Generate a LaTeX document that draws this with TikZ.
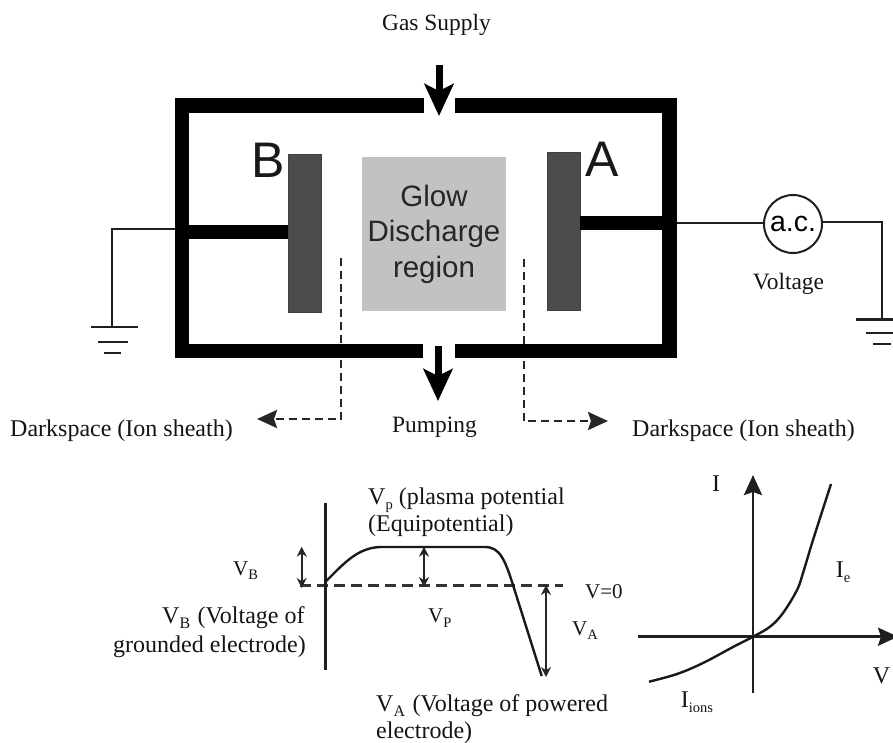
\documentclass[tikz,border=0pt]{standalone}
\usepackage{fontspec}
\setmainfont{Liberation Serif}
\setsansfont{Liberation Sans}
\usetikzlibrary{arrows.meta,positioning}
\newcommand{\lowidx}[1]{\raisebox{-0.22em}{\fontsize{14.5}{14.5}\selectfont #1}}
\newcommand{\lowidxb}[1]{\raisebox{-0.22em}{\fontsize{16}{16}\selectfont #1}\kern1.5pt\relax}
\tikzset{
  wall/.style={line width=14.4pt,draw=black,line join=miter},
  wire/.style={line width=2pt,draw=black!88},
  gnd/.style={line width=2.2pt,draw=black!88},
  bigarrow/.style={line width=7pt,draw=black,-{Stealth[length=32pt,width=29pt,inset=7pt]}},
  sheath/.style={line width=2.9pt,draw=black!85,dash pattern=on 8pt off 4.8pt,-{Stealth[length=20pt,width=18pt,inset=3pt]}},
  electrode/.style={draw=black!75,line width=0.8pt,fill=black!70,inner sep=0pt,minimum width=33pt,minimum height=157.5pt},
  glow/.style={fill=black!24,inner sep=0pt,minimum width=144.5pt,minimum height=154.5pt,
    font=\fontsize{29.5}{35.5}\selectfont\sffamily,align=center,text=black!85},
  bigletter/.style={font=\fontsize{50}{50}\selectfont\sffamily,inner sep=0pt,anchor=base west,text=black!90},
  lbl/.style={font=\fontsize{24}{27.5}\selectfont,inner sep=0pt,anchor=base west,text=black!92},
  lblnarrow/.style={font=\fontsize{23.4}{27.5}\selectfont,inner sep=0pt,anchor=base west,text=black!92},
  smalllbl/.style={font=\fontsize{21}{25}\selectfont,inner sep=0pt,anchor=base west,text=black!92},
  axisline/.style={line width=2.6pt,draw=black!88},
  curveline/.style={line width=2.4pt,draw=black!90,line join=round},
  zeroline/.style={line width=2.6pt,draw=black!80,dash pattern=on 11pt off 6pt},
  dim/.style={line width=1.8pt,draw=black!85,{Stealth[length=10pt,width=10pt]}-{Stealth[length=10pt,width=10pt]}},
  ivaxis/.style={line width=2.8pt,draw=black!88,-{Stealth[length=20pt,width=18pt,inset=3pt]}},
}
\begin{document}
\begin{tikzpicture}[x=1pt,y=-1pt]
\useasboundingbox (0,0) rectangle (893,743);

% sheath connectors, under the chamber
\coordinate (sl0) at (341,258);
\coordinate (slc) at (341,419);
\coordinate (sl1) at (257,419);
\coordinate (sr0) at (524,259);
\coordinate (src) at (524,421);
\coordinate (sr1) at (608,421);
\draw[sheath] (sl0) -- (slc) -- (sl1);
\draw[sheath] (sr0) -- (src) -- (sr1);

% chamber
\coordinate (tl) at (181.7,105.6);
\coordinate (bl) at (181.7,351);
\coordinate (tr) at (669.5,105.6);
\coordinate (br) at (669.5,351);
\coordinate (gapTL) at (424,105.6);
\coordinate (gapTR) at (455,105.6);
\coordinate (gapBL) at (423,351);
\coordinate (gapBR) at (455,351);
\draw[wall] (gapTL) -- (tl) -- (bl) -- (gapBL);
\draw[wall] (gapTR) -- (tr) -- (br) -- (gapBR);

% electrodes and discharge
\node[electrode] (eb) at (305,233.5) {};
\node[electrode] (ea) at (563.5,231.5) {};
\node[glow] (gd) at (434,234) {Glow\\Discharge\\region};
\coordinate (wb) at (181.7,232);
\coordinate (wa) at (669.5,223);
\draw[wall] (wb) -- (wb -| eb.west);
\draw[wall] (wa) -- (wa -| ea.east);
\node[bigletter] (lb) at (251,178) {B};
\node[bigletter] (la) at (585,177) {A};

% gas arrows
\coordinate (g0) at (439,65);
\coordinate (g1) at (439,116);
\coordinate (p0) at (438,346);
\coordinate (p1) at (438,401);
\draw[bigarrow] (g0) -- (g1);
\draw[bigarrow] (p0) -- (p1);

% left ground
\coordinate (lw0) at (174.5,229);
\coordinate (lwc) at (112,229);
\coordinate (lg) at (112,326.7);
\draw[wire] (lw0) -- (lwc) -- (lg);
\draw[gnd] (91,326.7) -- (138,326.7);
\draw[gnd] (98,341.7) -- (128,341.7);
\draw[gnd] (104,353) -- (121,353);

% source and right ground
\node[circle,draw=black!88,line width=2pt,fill=white,minimum size=58pt,inner sep=0pt,
  font=\fontsize{28.5}{28.5}\selectfont\sffamily] (ac) at (793,224) {a.c.};
\coordinate (rw0) at (676.7,223);
\coordinate (rwc) at (882,222);
\coordinate (rg) at (882,319.5);
\draw[wire] (rw0) -- (ac.west |- rw0);
\draw[wire] (ac.east |- rwc) -- (rwc) -- (rg);
\draw[gnd] (856,319.5) -- (893,319.5);
\draw[gnd] (866,332.7) -- (893,332.7);
\draw[gnd] (873,344) -- (891,344);

% upper labels
\node[lblnarrow] (tgas) at (382,31) {Gas Supply};
\node[lblnarrow] (tvolt) at (752.7,289) {Voltage};
\node[lbl] (tdl) at (10,436.7) {Darkspace (Ion sheath)};
\node[lbl] (tdr) at (632,436.7) {Darkspace (Ion sheath)};
\node[lblnarrow] (tpump) at (392,432.7) {Pumping};

% potential plot
\coordinate (ax0) at (325.3,502.7);
\coordinate (ax1) at (325.3,670);
\coordinate (z0) at (300,585.3);
\coordinate (z1) at (563,585.3);
\draw[zeroline] (z0) -- (z1);
\draw[axisline] (ax0) -- (ax1);
\draw[curveline] (325.3,582) .. controls (345,562) and (358,548) .. (380,547)
  -- (485,547) .. controls (500,547) and (505,560) .. (513,585) -- (541.7,676);
\coordinate (dbT) at (301.7,546.7);
\coordinate (dbB) at (301.7,588);
\coordinate (dpT) at (424,546.7);
\coordinate (dpB) at (424,587);
\coordinate (daT) at (546,585);
\coordinate (daB) at (546,677);
\draw[dim] (dbT) -- (dbB);
\draw[dim] (dpT) -- (dpB);
\draw[dim] (daT) -- (daB);

\node[lbl] (tvp) at (368,504) {V\lowidx{p} (plasma potential};
\node[lbl] (teq) at (368,531.7) {(Equipotential)};
\node[smalllbl] (tvb) at (233,575) {V\lowidx{B}};
\node[lbl] (tvbl) at (162,623) {V\lowidxb{B} (Voltage of};
\node[lbl] (tgr) at (113,652) {grounded electrode)};
\node[smalllbl] (tvpp) at (428,622.7) {V\lowidx{P}};
\node[smalllbl] (tv0) at (585,598) {V=0};
\node[smalllbl] (tva) at (572,635) {V\lowidx{A}};
\node[lbl] (tval) at (376,711.7) {V\lowidxb{A} (Voltage of powered};
\node[lbl] (tel) at (376,738) {electrode)};

% I-V plot
\coordinate (ix0) at (637.7,636.7);
\coordinate (ix1) at (898,636.7);
\coordinate (iy0) at (753,692.7);
\coordinate (iy1) at (753,475);
\draw[ivaxis] (ix0) -- (ix1);
\draw[ivaxis] (iy0) -- (iy1);
\draw[curveline] plot[smooth,tension=0.6] coordinates {(649,681.7) (677,674) (703,663) (733,647) (753,636.7) (770,626.7) (783,613) (797,590) (803,573) (813,540) (831,484)};
\node[lbl] (ti) at (712,491.7) {I};
\node[lbl] (tie) at (835.7,577) {I\lowidx{e}};
\node[lbl] (tii) at (680.7,707) {I\lowidx{ions}};
\node[lbl] (tv) at (872.7,683) {V};
\end{tikzpicture}
\end{document}
